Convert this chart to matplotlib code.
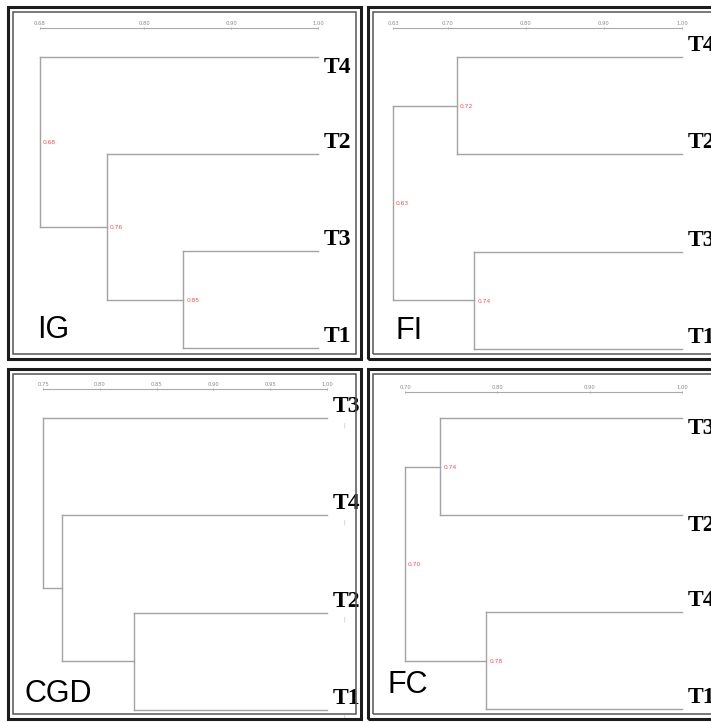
import matplotlib
matplotlib.use("Agg")
import matplotlib.pyplot as plt
from matplotlib.patches import Rectangle

W, H = 711, 722

# ---- data: one dendrogram per panel ----
ig_leaves = ["T4", "T2", "T3", "T1"]
ig_merges = [(2, 3), (1, 4), (0, 5)]
ig_heights = [0.845, 0.757, 0.68]
ig_node_labels = ["0.85", "0.76", "0.68"]
ig_ticks = [0.68, 0.80, 0.90, 1.00]

fi_leaves = ["T4", "T2", "T3", "T1"]
fi_merges = [(0, 1), (2, 3), (4, 5)]
fi_heights = [0.712, 0.734, 0.63]
fi_node_labels = ["0.72", "0.74", "0.63"]
fi_ticks = [0.63, 0.70, 0.80, 0.90, 1.00]

cgd_leaves = ["T3", "T4", "T2", "T1"]
cgd_merges = [(2, 3), (1, 4), (0, 5)]
cgd_heights = [0.830, 0.767, 0.75]
cgd_node_labels = None
cgd_ticks = [0.75, 0.80, 0.85, 0.90, 0.95, 1.00]

fc_leaves = ["T3", "T2", "T4", "T1"]
fc_merges = [(0, 1), (2, 3), (4, 5)]
fc_heights = [0.738, 0.788, 0.70]
fc_node_labels = ["0.74", "0.78", "0.70"]
fc_ticks = [0.70, 0.80, 0.90, 1.00]

LINE = "#a3a3a3"
RED = "#ff4d4d"


def px_rect(x0, y0, x1, y1):
    return [x0 / W, 1 - y1 / H, (x1 - x0) / W, (y1 - y0) / H]


def frame(fig, x0, y0, x1, y1):
    fig.patches.append(Rectangle((x0 / W, 1 - y1 / H), (x1 - x0) / W, (y1 - y0) / H,
                                 transform=fig.transFigure, fill=False,
                                 edgecolor="#1c1c1c", linewidth=2.2))
    fig.patches.append(Rectangle(((x0 + 5) / W, 1 - (y1 - 5) / H), (x1 - x0 - 10) / W,
                                 (y1 - y0 - 10) / H, transform=fig.transFigure,
                                 fill=False, edgecolor="#555555", linewidth=1.1))


def dendro(fig, box, scale_gap, leaves, merges, heights, node_labels, ticks,
           below, marks=False):
    ax = fig.add_axes(px_rect(*box))
    n = len(leaves)
    xs = [1.0] * n
    ys = list(range(n))
    for k, ((a, b), h) in enumerate(zip(merges, heights)):
        ax.plot([h, h], [ys[a], ys[b]], color=LINE, lw=1.0, clip_on=False)
        for c in (a, b):
            ax.plot([h, xs[c]], [ys[c], ys[c]], color=LINE, lw=1.0, clip_on=False)
        yn = (ys[a] + ys[b]) / 2
        xs.append(h)
        ys.append(yn)
        if node_labels:
            ax.annotate(node_labels[k], (h, yn), xytext=(2.2, -0.5),
                        textcoords="offset points", color=RED, fontsize=4.3,
                        va="center", ha="left", annotation_clip=False)
    for i, name in enumerate(leaves):
        dy = -11.8 if below[i] else 4.3
        ax.annotate(name, (1.0, i), xytext=(4, dy), textcoords="offset points",
                    va="baseline", ha="left", fontsize=17, fontweight="bold",
                    family="Liberation Serif", annotation_clip=False)
        if marks:
            ax.annotate("|", (1.0, i), xytext=(12, -5), textcoords="offset points",
                        va="center", ha="left", fontsize=3.5, color="#aaaaaa",
                        annotation_clip=False)
    ax.set_xlim(ticks[0], 1.0)
    ax.set_ylim(n - 1, 0)
    ax.set_xticks(ticks)
    ax.set_xticklabels(["%.2f" % t for t in ticks])
    ax.set_yticks([])
    for s in ("left", "right", "bottom"):
        ax.spines[s].set_visible(False)
    ax.spines["top"].set_position(("outward", scale_gap * 0.72))
    ax.spines["top"].set_color("#aaaaaa")
    ax.spines["top"].set_linewidth(0.8)
    ax.xaxis.tick_top()
    ax.tick_params(axis="x", top=True, bottom=False, labeltop=True,
                   labelbottom=False, direction="inout", length=2, width=0.6,
                   color="#999999", labelsize=3.8, labelcolor="#8a8a8a", pad=0.5)
    ax.patch.set_visible(False)
    return ax


fig = plt.figure(figsize=(W / 100, H / 100), dpi=100)
fig.patch.set_facecolor("white")

frame(fig, 8, 7, 361, 359)
frame(fig, 368, 7, 720, 359)
frame(fig, 8, 369, 361, 719)
frame(fig, 368, 369, 720, 719)

dendro(fig, (40, 57, 318, 348), 29, ig_leaves, ig_merges, ig_heights,
       ig_node_labels, ig_ticks, [True, False, False, False])
dendro(fig, (393, 57, 682, 349), 29, fi_leaves, fi_merges, fi_heights,
       fi_node_labels, fi_ticks, [False, False, False, False])
dendro(fig, (43, 418, 327, 710), 29, cgd_leaves, cgd_merges, cgd_heights,
       cgd_node_labels, cgd_ticks, [False, False, False, False], marks=True)
dendro(fig, (405, 418, 682, 709), 26, fc_leaves, fc_merges, fc_heights,
       fc_node_labels, fc_ticks, [True, True, False, False])

for name, x, y in [("IG", 37, 338), ("FI", 396, 339), ("CGD", 25, 702), ("FC", 388, 693)]:
    fig.text(x / W, 1 - y / H, name, fontsize=22, family="Liberation Sans",
             va="baseline", ha="left")

fig.savefig("out.png", dpi=100)
